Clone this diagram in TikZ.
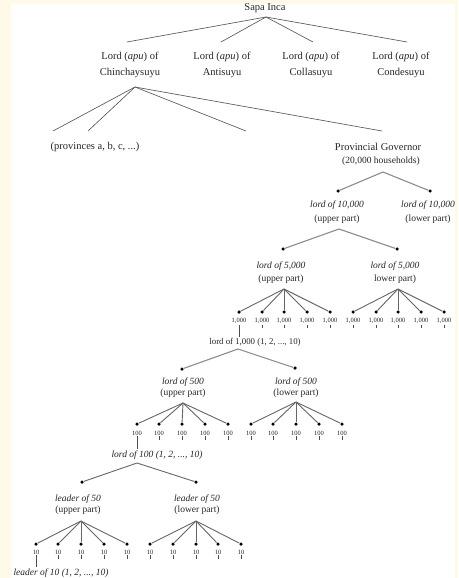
\documentclass[tikz,border=0pt]{standalone}
\usepackage{fontspec}
\setmainfont{Liberation Serif}
\definecolor{cream}{RGB}{255,250,232}
\begin{document}
\begin{tikzpicture}[
    x=1pt,y=-1pt,
    every node/.style={text=black!85},
    main/.style={font=\fontsize{10.5}{16}\selectfont, align=center, inner sep=1pt},
    sub/.style={font=\fontsize{9.5}{14}\selectfont, align=center, inner sep=1pt},
    subtight/.style={font=\fontsize{9.5}{11.5}\selectfont, align=center, inner sep=1pt},
    num/.style={font=\fontsize{6.5}{7}\selectfont, inner sep=1pt},
    dot/.style={circle, fill=black, inner sep=0pt, minimum size=3.5pt},
    top/.style={draw=black!65, line width=0.65pt},
    split/.style={draw=black!45, line width=1.1pt},
    fan/.style={draw=black!60, line width=0.9pt},
    tick/.style={draw=black!70, line width=0.55pt}
]
    \fill[cream] (0,0) rectangle (458,578);
    \fill[white] (11,4) rectangle (455,578);
    \useasboundingbox (0,0) rectangle (458,578);

    % the four quarters
    \node[main] (sapa) at (265,8) {Sapa Inca};
    \coordinate (sapaB) at (266,17);
    \node[main] (chin) at (130,65) {Lord (\textit{apu}) of\\Chinchaysuyu};
    \node[main] (anti) at (222,65) {Lord (\textit{apu}) of\\Antisuyu};
    \node[main] (colla) at (311,65) {Lord (\textit{apu}) of\\Collasuyu};
    \node[main] (conde) at (401,65) {Lord (\textit{apu}) of\\Condesuyu};
    \foreach \q/\x in {chin/127,anti/221,colla/313,conde/407} {
        \coordinate (\q T) at (\x,42);
        \draw[top] (sapaB) -- (\q T);
    }

    % provinces
    \coordinate (chinB) at (135,87);
    \foreach \p/\x in {provA/53,provB/88,provC/246,govT/382} {
        \coordinate (\p) at (\x,131);
        \draw[top] (chinB) -- (\p);
    }
    \node[main] (prov) at (95,147) {(provinces a, b, c, ...)};
    \node[main] (gov) at (378,147) {Provincial Governor};
    \node[sub] (govhh) at (381,161) {(20,000 households)};

    % 10,000
    \coordinate (govB) at (383,172);
    \node[dot] (d10u) at (338,191) {};
    \node[dot] (d10l) at (430,191) {};
    \draw[split] (govB) -- (d10u);
    \draw[split] (govB) -- (d10l);
    \node[sub] (l10u) at (337,212) {\textit{lord of 10,000}\\(upper part)};
    \node[sub] (l10l) at (428,212) {\textit{lord of 10,000}\\(lower part)};

    % 5,000
    \coordinate (l10uB) at (339,229);
    \node[dot] (d5u) at (283,249) {};
    \node[dot] (d5l) at (397,249) {};
    \draw[split] (l10uB) -- (d5u);
    \draw[split] (l10uB) -- (d5l);
    \node[sub, font=\fontsize{9.5}{13}\selectfont] (l5u) at (281,272.5) {\textit{lord of 5,000}\\(upper part)};
    \node[sub, font=\fontsize{9.5}{13}\selectfont] (l5l) at (395,272.5) {\textit{lord of 5,000}\\lower part)};

    % 1,000
    \coordinate (l5uB) at (284,289);
    \coordinate (l5lB) at (398,289);
    \foreach \i/\x in {1/239,2/262,3/284,4/307,5/330} {
        \node[dot] (kU\i) at (\x,312) {};
        \node[num] (kUn\i) at (\x,321) {1,000};
        \draw[fan] (l5uB) -- (kU\i);
    }
    \foreach \i/\x in {1/353,2/376,3/398,4/421,5/444} {
        \node[dot] (kL\i) at (\x,312) {};
        \node[num] (kLn\i) at (\x,321) {1,000};
        \draw[fan] (l5lB) -- (kL\i);
        \draw[tick] (kLn\i.south) -- ++(0,3.5);
    }
    \foreach \i in {2,...,5} {
        \draw[tick] (kUn\i.south) -- ++(0,3.5);
    }
    \node[sub, font=\fontsize{8.8}{11}\selectfont] (k1) at (255,342) {lord of 1,000 (1, 2, ..., 10)};
    \draw[tick] (kUn1.south) -- (kUn1.south |- k1.north);

    % 500
    \coordinate (k1B) at (238,349);
    \node[dot] (d500u) at (182,369) {};
    \node[dot] (d500l) at (295,368) {};
    \draw[split] (k1B) -- (d500u);
    \draw[split] (k1B) -- (d500l);
    \node[subtight] (l500u) at (183,387.5) {\textit{lord of 500}\\(upper part)};
    \node[subtight] (l500l) at (296,387.5) {\textit{lord of 500}\\(lower part)};

    % 100
    \coordinate (l500uB) at (183,403);
    \coordinate (l500lB) at (296,402);
    \foreach \i/\x in {1/137,2/159,3/182,4/205,5/228} {
        \node[dot] (hU\i) at (\x,424) {};
        \node[num] (hUn\i) at (\x,433) {100};
        \draw[fan] (l500uB) -- (hU\i);
    }
    \foreach \i/\x in {1/251,2/273,3/296,4/319,5/342} {
        \node[dot] (hL\i) at (\x,424) {};
        \node[num] (hLn\i) at (\x,433) {100};
        \draw[fan] (l500lB) -- (hL\i);
        \draw[tick] (hLn\i.south) -- ++(0,3.5);
    }
    \foreach \i in {2,...,5} {
        \draw[tick] (hUn\i.south) -- ++(0,3.5);
    }
    \node[sub] (h1) at (157,455) {\textit{lord of 100 (1, 2, ..., 10)}};
    \draw[tick] (hUn1.south) -- (hUn1.south |- h1.north);

    % 50
    \coordinate (h1B) at (137,463);
    \node[dot] (d50u) at (82,482) {};
    \node[dot] (d50l) at (196,482) {};
    \draw[fan] (h1B) -- (d50u);
    \draw[fan] (h1B) -- (d50l);
    \node[subtight] (l50u) at (78,504.5) {\textit{leader of 50}\\(upper part)};
    \node[subtight] (l50l) at (197,504.5) {\textit{leader of 50}\\(lower part)};

    % 10
    \coordinate (l50uB) at (81,521);
    \coordinate (l50lB) at (196,521);
    \foreach \i/\x in {1/36,2/58,3/81,4/104,5/127} {
        \node[dot] (tU\i) at (\x,544) {};
        \node[num] (tUn\i) at (\x,552) {10};
        \draw[fan] (l50uB) -- (tU\i);
    }
    \foreach \i/\x in {1/150,2/173,3/196,4/218,5/241} {
        \node[dot] (tL\i) at (\x,544) {};
        \node[num] (tLn\i) at (\x,552) {10};
        \draw[fan] (l50lB) -- (tL\i);
        \draw[tick] (tLn\i.south) -- ++(0,3.5);
    }
    \foreach \i in {2,...,5} {
        \draw[tick] (tUn\i.south) -- ++(0,3.5);
    }
    \node[sub] (t1) at (61,573) {\textit{leader of 10 (1, 2, ..., 10)}};
    \draw[tick] (tUn1.south) -- (tUn1.south |- t1.north);
\end{tikzpicture}
\end{document}
